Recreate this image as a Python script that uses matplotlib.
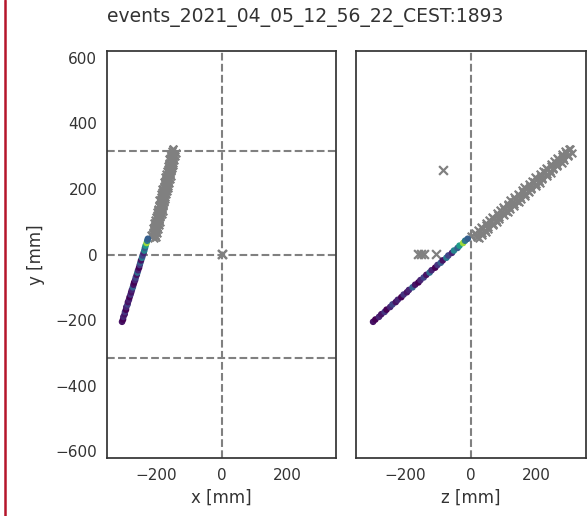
import numpy as np
import matplotlib
matplotlib.use('Agg')
import matplotlib.pyplot as plt
from matplotlib.lines import Line2D
import seaborn as sns

# track hits (viridis coloured part), x / y / z in mm, c = colour value
trk_y = [-205, -198, -190, -182, -175, -168, -160, -152, -145, -138, -130, -122,
         -115, -108, -100, -92, -85, -78, -70, -62, -55, -48, -40, -32, -25, -18,
         -10, -3, 5, 12, 20, 27, 35, 42, 48]
trk_x = [-304, -301, -300, -296, -295, -292, -291, -287, -286, -283, -281, -278,
         -276, -274, -271, -269, -267, -264, -262, -259, -257, -255, -252, -250,
         -248, -246, -243, -241, -238, -236, -234, -232, -229, -227, -225]
trk_z = [-298, -291, -280, -273, -263, -257, -246, -239, -229, -223, -212, -205,
         -195, -189, -178, -170, -160, -154, -144, -136, -126, -120, -109, -102,
         -92, -86, -75, -69, -58, -52, -41, -35, -24, -18, -10]
trk_c = [0.05, 0.0, 0.1, 0.05, 0.15, 0.0, 0.1, 0.2, 0.05, 0.1, 0.0, 0.15,
         0.05, 0.1, 0.3, 0.05, 0.0, 0.1, 0.2, 0.05, 0.35, 0.1, 0.0, 0.15,
         0.3, 0.05, 0.4, 0.2, 0.1, 0.45, 0.3, 0.55, 0.85, 0.4, 0.3]

# grey hits (band), two passes
gry_y = [55, 60, 65, 70, 75, 80, 85, 90, 95, 100, 105, 110, 115, 120, 125, 130,
         135, 140, 145, 150, 155, 160, 165, 170, 175, 180, 185, 190, 195, 200,
         205, 210, 215, 220, 225, 230, 235, 240, 245, 250, 255, 260, 265, 270,
         275, 280, 285, 290, 295, 300, 305, 310, 315, 320, 322]
gry_x = [-211, -215, -210, -210, -205, -209, -206, -203, -207, -201, -202, -197,
         -201, -198, -194, -198, -193, -194, -189, -192, -189, -186, -190, -185,
         -185, -180, -184, -181, -178, -182, -176, -177, -172, -176, -173, -169,
         -173, -168, -169, -164, -167, -164, -161, -165, -160, -160, -155, -159,
         -156, -153, -157, -151, -152, -148, -147]
gry_z = [1, 16, 13, 27, 22, 34, 31, 47, 47, 61, 55, 68, 65, 81, 79, 93, 89, 100,
         97, 113, 112, 127, 120, 134, 130, 147, 144, 159, 154, 166, 162, 179, 178,
         193, 186, 200, 196, 212, 210, 224, 220, 231, 228, 244, 244, 258, 252, 265,
         262, 278, 276, 290, 285, 297, 300]

gry2_y = [49, 54, 59, 64, 69, 74, 79, 84, 89, 94, 99, 104, 109, 114, 119, 124,
          129, 134, 139, 144, 149, 154, 159, 164, 169, 174, 179, 184, 189, 194,
          199, 204, 209, 214, 219, 224, 229, 234, 239, 244, 249, 254, 259, 264,
          269, 274, 279, 284, 289, 294, 299, 304, 309]
gry2_x = [-205, -200, -202, -197, -199, -200, -195, -197, -192, -194, -188, -190,
          -192, -187, -189, -183, -185, -180, -182, -184, -178, -180, -175, -177,
          -172, -174, -175, -170, -172, -167, -169, -163, -165, -167, -162, -164,
          -158, -160, -155, -157, -159, -153, -155, -150, -152, -147, -149, -150,
          -145, -147, -142, -144, -138]
gry2_z = [23, 18, 32, 33, 46, 42, 52, 52, 66, 66, 79, 75, 85, 84, 99, 98, 112,
          107, 118, 117, 132, 131, 145, 140, 151, 150, 165, 164, 177, 173, 183,
          183, 197, 197, 210, 206, 216, 216, 230, 230, 243, 239, 249, 249, 263,
          262, 276, 271, 282, 281, 296, 295, 306]

# isolated grey hits
outl_x = [0, 1]
outl_y = [2, 1]
outr_z = [-84, -162, -152, -142, -108]
outr_y = [257, 3, 3, 3, 3]

title = 'events_2021_04_05_12_56_22_CEST:1893'
x_ticks = [-200, 0, 200]
y_ticks = [-600, -400, -200, 0, 200, 400, 600]

sns.set_style('white')
plt.rcParams['font.family'] = ['DejaVu Sans']

fig = plt.figure(figsize=(5.87, 5.16), dpi=100)
ax1 = fig.add_axes([107 / 587, 1 - 458 / 516, 229 / 587, 407 / 516])
ax2 = fig.add_axes([356 / 587, 1 - 458 / 516, 230 / 587, 407 / 516])

panels = [(ax1, trk_x, gry_x + gry2_x, outl_x, outl_y, 'x [mm]'),
          (ax2, trk_z, gry_z + gry2_z, outr_z, outr_y, 'z [mm]')]
for ax, hx, gx, ox, oy, lab in panels:
    ax.axvline(0, color='grey', ls='--', lw=1.5, zorder=1)
    ax.scatter(gx, gry_y + gry2_y, marker='x', color='grey', s=30, lw=1.6,
               zorder=2)
    ax.scatter(ox, oy, marker='x', color='grey', s=40, lw=1.6, zorder=2)
    ax.scatter(hx, trk_y, c=trk_c, cmap='viridis', vmin=0, vmax=1, s=14,
               zorder=3)
    ax.set_xlim(-350, 350)
    ax.set_ylim(-620, 620)
    ax.set_xticks(x_ticks)
    ax.set_xlabel(lab, fontsize=12, color='.2')
    ax.tick_params(labelsize=11, colors='.2')
    for sp in ax.spines.values():
        sp.set_color('.2')
        sp.set_linewidth(1.25)

for yl in [315, 0, -315]:
    ax1.axhline(yl, color='grey', ls='--', lw=1.5, zorder=1)
ax1.set_yticks(y_ticks)
ax1.set_ylabel('y [mm]', fontsize=12, color='.2')
ax1.yaxis.set_label_coords(-0.27, 0.5)
ax2.set_yticks(y_ticks)
ax2.set_yticklabels([])

fig.text(305 / 587, 1 - 17 / 516, title, ha='center', va='center',
         fontsize=13.5, color='.2')

# notebook cell marker on the left edge
fig.add_artist(Line2D([5 / 587, 5 / 587], [0, 1], color='#b5152b', lw=1.8))

fig.savefig('out.png', dpi=100)
